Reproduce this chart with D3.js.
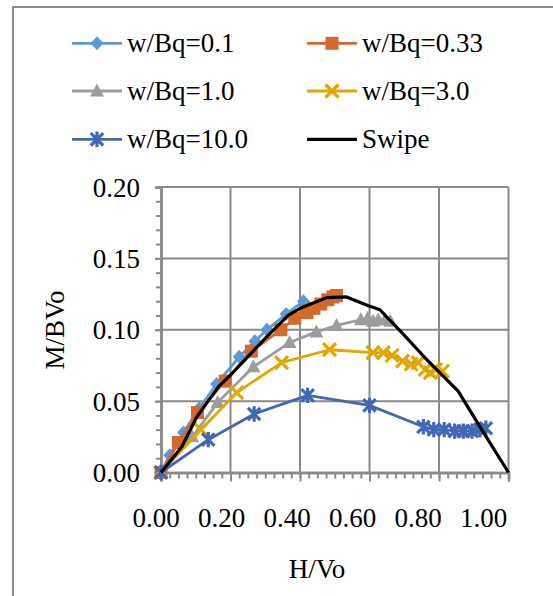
<!DOCTYPE html>
<html>
<head>
<meta charset="utf-8">
<script src="https://cdn.jsdelivr.net/npm/d3@7"></script>
<style>
  html, body { margin: 0; padding: 0; background: #fff; }
  svg { display: block; font-family: "Liberation Serif", "Times New Roman", serif; }
</style>
</head>
<body>
<svg id="chart" width="553" height="596"></svg>
<script>
// ---- Data ----
const seriesNames = ["w/Bq=0.1", "w/Bq=0.33", "w/Bq=1.0", "w/Bq=3.0", "w/Bq=10.0", "Swipe"];

const wb01 = [[0,0],[0.025,0.012],[0.065,0.028],[0.11,0.045],[0.16,0.062],[0.225,0.081],[0.27,0.092],[0.305,0.100],[0.36,0.111],[0.41,0.120]];
const wb033 = [[0,0],[0.05,0.021],[0.105,0.042],[0.185,0.064],[0.26,0.085],[0.345,0.100],[0.385,0.108],[0.42,0.112],[0.44,0.115],[0.46,0.118],[0.48,0.121],[0.495,0.123],[0.505,0.124]];
const wb10 = [[0,0],[0.09,0.025],[0.163,0.049],[0.266,0.074],[0.37,0.091],[0.447,0.0985],[0.505,0.103],[0.575,0.107],[0.595,0.108],[0.61,0.106],[0.625,0.107],[0.645,0.107],[0.66,0.106]];
const wb30 = [[0,0],[0.115,0.030],[0.218,0.056],[0.347,0.077],[0.485,0.086],[0.61,0.084],[0.64,0.084],[0.665,0.082],[0.695,0.078],[0.72,0.076],[0.74,0.077],[0.76,0.072],[0.775,0.070],[0.79,0.072],[0.81,0.071]];
const wb100 = [[0,0],[0.136,0.023],[0.268,0.041],[0.422,0.054],[0.60,0.047],[0.755,0.032],[0.785,0.030],[0.815,0.030],[0.845,0.029],[0.87,0.029],[0.895,0.029],[0.918,0.030],[0.935,0.031]];
const swipe = [[0,0],[0.06,0.018],[0.103,0.039],[0.165,0.060],[0.203,0.069],[0.304,0.095],[0.366,0.110],[0.40,0.115],[0.477,0.1225],[0.534,0.123],[0.595,0.117],[0.63,0.114],[0.697,0.097],[0.765,0.079],[0.855,0.057],[0.918,0.032],[1.0,0.0]];

const xTicks = [0, 0.2, 0.4, 0.6, 0.8, 1.0];
const yTicks = [0, 0.05, 0.10, 0.15, 0.20];
const xTitle = "H/Vo";
const yTitle = "M/BVo";

// ---- Styles ----
const colors = ["#5b9bd5", "#d5692a", "#9c9c9c", "#e3a600", "#4168b5", "#000000"];
const markers = ["diamond", "square", "triangle", "x", "star", "none"];
const gridColor = "#8a8a8a";
const fontSize = 27;

const svg = d3.select("#chart");

// outer frame (extends past right & bottom)
svg.append("path")
  .attr("d", "M13,600 L13,7 L560,7")
  .attr("fill", "none").attr("stroke", "#8c8c8c").attr("stroke-width", 2);

const L = 161, R = 508.5, T = 187, B = 472.5;
const x = d3.scaleLinear().domain([0, 1]).range([L, R]);
const y = d3.scaleLinear().domain([0, 0.2]).range([B, T]);
const xLab = d3.scaleLinear().domain([0, 1]).range([156, 483.5]);

// gridlines
const grid = svg.append("g");
grid.selectAll(".gx").data(xTicks.slice(1)).join("line")
  .attr("x1", d => x(d)).attr("x2", d => x(d)).attr("y1", T).attr("y2", B)
  .attr("stroke", gridColor).attr("stroke-width", 2);
grid.selectAll(".gy").data(yTicks.slice(1)).join("line")
  .attr("x1", L).attr("x2", R).attr("y1", d => y(d)).attr("y2", d => y(d))
  .attr("stroke", gridColor).attr("stroke-width", 2);

// axes with minor ticks
const xMinor = d3.range(0, 1.0001, 0.025);
const yMinor = d3.range(0, 0.2001, 0.01);
const xAxisMinor = d3.axisBottom(x).tickValues(xMinor).tickSize(6).tickFormat("");
const xAxisMajor = d3.axisBottom(x).tickValues(xTicks).tickSize(9).tickFormat("");
const yAxisMinor = d3.axisLeft(y).tickValues(yMinor).tickSize(5).tickFormat("");
const yAxisMajor = d3.axisLeft(y).tickValues(yTicks).tickSize(6).tickFormat("");

function styleAxis(g) {
  g.selectAll("path").attr("stroke", gridColor).attr("stroke-width", 2.5);
  g.selectAll("line").attr("stroke", gridColor).attr("stroke-width", 2);
}
svg.append("g").attr("transform", `translate(0,${B})`).call(xAxisMinor).call(styleAxis);
svg.append("g").attr("transform", `translate(0,${B})`).call(xAxisMajor).call(styleAxis);
svg.append("g").attr("transform", `translate(${L},0)`).call(yAxisMinor).call(styleAxis);
svg.append("g").attr("transform", `translate(${L},0)`).call(yAxisMajor).call(styleAxis);

// tick labels
svg.append("g").selectAll("text").data(xTicks).join("text")
  .attr("x", d => xLab(d)).attr("y", 527)
  .attr("text-anchor", "middle").attr("font-size", fontSize).attr("fill", "#000")
  .text(d => d.toFixed(2));
svg.append("g").selectAll("text").data(yTicks).join("text")
  .attr("x", 140).attr("y", d => y(d) + 9.5)
  .attr("text-anchor", "end").attr("font-size", fontSize).attr("fill", "#000")
  .text(d => d.toFixed(2));

// axis titles
svg.append("text").attr("x", 317).attr("y", 578).attr("text-anchor", "middle")
  .attr("font-size", fontSize).text(xTitle);
svg.append("text").attr("transform", "translate(64,330) rotate(-90)").attr("text-anchor", "middle")
  .attr("font-size", fontSize).text(yTitle);

// marker drawing
function drawMarker(g, type, color, cx, cy) {
  const t = `translate(${cx},${cy})`;
  if (type === "diamond") {
    g.append("path").attr("d", "M0,-7L6.5,0L0,7L-6.5,0Z")
      .attr("transform", t).attr("fill", color);
  } else if (type === "square") {
    g.append("path").attr("d", "M-6.5,-6.5H6.5V6.5H-6.5Z")
      .attr("transform", t).attr("fill", color);
  } else if (type === "triangle") {
    g.append("path").attr("d", "M0,-7.5L7,5.5H-7Z")
      .attr("transform", t).attr("fill", color);
  } else if (type === "x") {
    const s = 6.5;
    g.append("path").attr("d", `M${-s},${-s}L${s},${s}M${-s},${s}L${s},${-s}`)
      .attr("transform", t).attr("stroke", color).attr("stroke-width", 3.2).attr("fill", "none");
  } else if (type === "star") {
    const s = 6.2;
    g.append("path").attr("d", `M${-s},${-s}L${s},${s}M${-s},${s}L${s},${-s}M0,${-s - 1.5}L0,${s + 1.5}`)
      .attr("transform", t).attr("stroke", color).attr("stroke-width", 3.2).attr("fill", "none");
  }
}

const line = d3.line().x(d => x(d[0])).y(d => y(d[1]));
const allSeries = [wb01, wb033, wb10, wb30, wb100, swipe];

const plot = svg.append("g");
allSeries.forEach((data, i) => {
  const g = plot.append("g");
  g.append("path").datum(data).attr("d", line)
    .attr("fill", "none").attr("stroke", colors[i])
    .attr("stroke-width", i === 5 ? 3.2 : 2.8).attr("stroke-linejoin", "round");
  if (markers[i] !== "none") {
    data.forEach(d => drawMarker(g, markers[i], colors[i], x(d[0]), y(d[1])));
  }
});

// legend
const legendPos = [[72, 43.3], [307, 43.3], [72, 91], [307, 91], [72, 139.3], [307, 139.3]];
const lg = svg.append("g");
seriesNames.forEach((name, i) => {
  const [lx, ly] = legendPos[i];
  lg.append("line").attr("x1", lx).attr("x2", lx + 50).attr("y1", ly).attr("y2", ly)
    .attr("stroke", colors[i]).attr("stroke-width", i === 5 ? 3.2 : 2.8);
  if (markers[i] !== "none") drawMarker(lg, markers[i], colors[i], lx + 25, ly);
  lg.append("text").attr("x", lx + 55).attr("y", ly + 8.5)
    .attr("font-size", fontSize).attr("fill", "#000").text(name);
});
</script>
</body>
</html>
